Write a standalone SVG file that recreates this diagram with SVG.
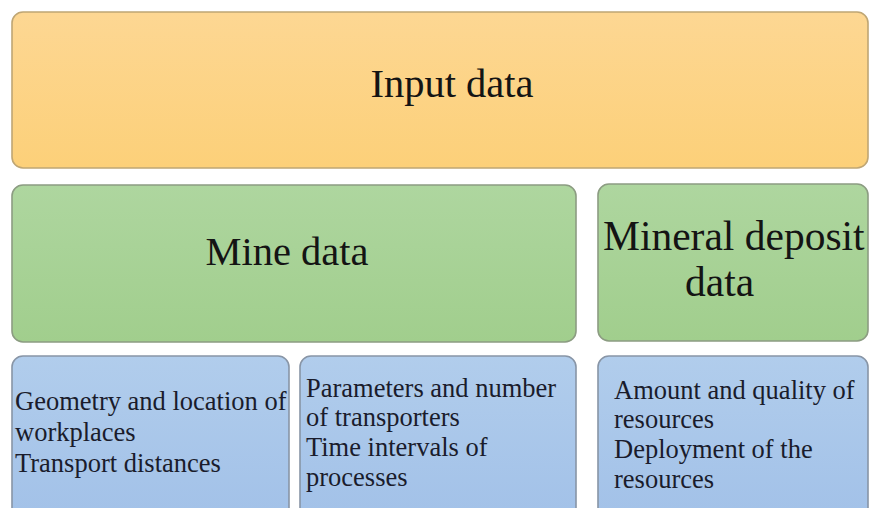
<svg xmlns="http://www.w3.org/2000/svg" width="870" height="508" viewBox="0 0 870 508">
  <defs>
    <linearGradient id="gOrange" x1="0" y1="0" x2="0" y2="1">
      <stop offset="0" stop-color="#FDD793"/>
      <stop offset="1" stop-color="#FCD079"/>
    </linearGradient>
    <linearGradient id="gGreen" x1="0" y1="0" x2="0" y2="1">
      <stop offset="0" stop-color="#AED69F"/>
      <stop offset="1" stop-color="#A1CE8D"/>
    </linearGradient>
    <linearGradient id="gBlue" x1="0" y1="0" x2="0" y2="1">
      <stop offset="0" stop-color="#B1CDEC"/>
      <stop offset="1" stop-color="#A2C1E8"/>
    </linearGradient>
    <style>
      .orange { fill: url(#gOrange); stroke: #BFA674; stroke-width: 1.6; }
      .green { fill: url(#gGreen); stroke: #8C9C82; stroke-width: 1.6; }
      .blue { fill: url(#gBlue); stroke: #8895A6; stroke-width: 1.6; }
      text { font-family: "Liberation Serif", "Times New Roman", serif; }
      .big { font-size: 40.5px; fill: #141414; }
      .big2 { font-size: 41.5px; fill: #141414; }
      .small { font-size: 26.5px; fill: #1A1C2C; }
    </style>
  </defs>
  <rect width="870" height="508" fill="#FFFFFF"/>

  <g id="input-data">
    <rect class="orange" x="12" y="12" width="856" height="156" rx="11"/>
    <text class="big" x="452" y="97" text-anchor="middle">Input data</text>
  </g>

  <g id="mine-data">
    <rect class="green" x="12" y="185" width="564" height="157" rx="11"/>
    <text class="big" x="287" y="265" text-anchor="middle">Mine data</text>
  </g>

  <g id="mineral-deposit-data">
    <rect class="green" x="598" y="184" width="270" height="157" rx="11"/>
    <text class="big2" x="603" y="250">Mineral deposit</text>
    <text class="big2" x="685" y="296">data</text>
  </g>

  <g id="workplaces">
    <rect class="blue" x="12" y="356" width="277" height="165" rx="11"/>
    <text class="small" x="15" y="410">Geometry and location of</text>
    <text class="small" x="15" y="441">workplaces</text>
    <text class="small" x="15" y="472">Transport distances</text>
  </g>

  <g id="transporters">
    <rect class="blue" x="300" y="356" width="276" height="165" rx="11"/>
    <text class="small" x="306" y="397">Parameters and number</text>
    <text class="small" x="306" y="426">of transporters</text>
    <text class="small" x="306" y="456">Time intervals of</text>
    <text class="small" x="306" y="486">processes</text>
  </g>

  <g id="resources">
    <rect class="blue" x="598" y="356" width="270" height="165" rx="11"/>
    <text class="small" x="614" y="399">Amount and quality of</text>
    <text class="small" x="614" y="428">resources</text>
    <text class="small" x="614" y="458">Deployment of the</text>
    <text class="small" x="614" y="488">resources</text>
  </g>

  <g id="connectors"/>
</svg>
